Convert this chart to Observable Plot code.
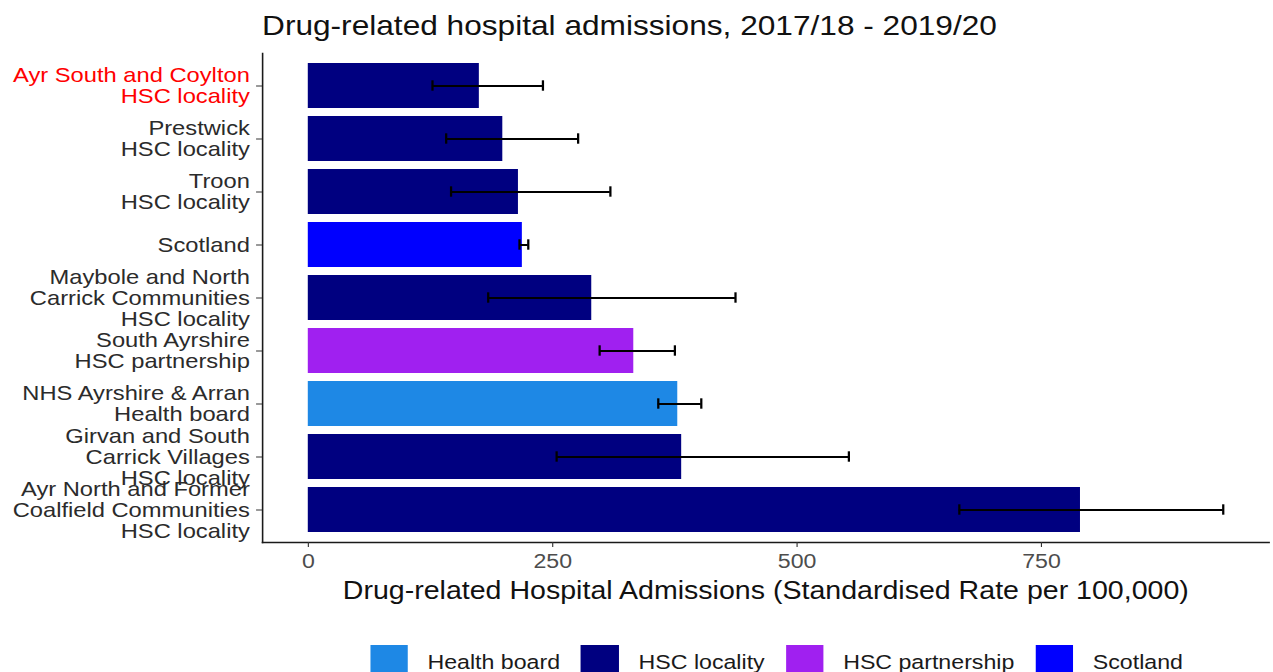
<!DOCTYPE html>
<html>
<head>
<meta charset="utf-8">
<script src="https://cdn.jsdelivr.net/npm/d3@7"></script>
<script src="https://cdn.jsdelivr.net/npm/@observablehq/plot@0.6"></script>
<style>
  html, body { margin: 0; padding: 0; background: #fff; overflow: hidden; }
  #wrap { width: 1127px; height: 672px; overflow: hidden; transform: scaleX(1.1295); transform-origin: 0 0;
          font-family: "Liberation Sans", Arial, Helvetica, sans-serif; background: #fff; }
  #title { box-sizing: border-box; height: 45px; padding-top: 12px; padding-left: 232px; font-size: 28px; line-height: 1; color: #111; white-space: nowrap; }
  #legend { display: flex; align-items: center; height: 34px; margin-top: 10px; padding-left: 327.6px; white-space: nowrap; }
  .sw { width: 33.6px; height: 33.6px; margin-right: 17.3px; flex: none; }
  .lt { font-size: 20.5px; color: #1a1a1a; margin-right: 18.6px; }
  svg { display: block; }
</style>
</head>
<body>
<div id="wrap">
  <div id="title"></div>
  <div id="chart"></div>
  <div id="legend"></div>
</div>
<script>
// ---- data ----
const labels = [
  "Ayr South and Coylton\nHSC locality",
  "Prestwick\nHSC locality",
  "Troon\nHSC locality",
  "Scotland",
  "Maybole and North\nCarrick Communities\nHSC locality",
  "South Ayrshire\nHSC partnership",
  "NHS Ayrshire & Arran\nHealth board",
  "Girvan and South\nCarrick Villages\nHSC locality",
  "Ayr North and Former\nCoalfield Communities\nHSC locality"
];
const types = ["HSC locality", "HSC locality", "HSC locality", "Scotland", "HSC locality",
               "HSC partnership", "Health board", "HSC locality", "HSC locality"];
const rates = [175, 199, 215, 219, 290, 333, 378, 382, 790];
const lower = [127, 141, 146, 216, 184, 298, 358, 254, 666];
const upper = [240, 276, 309, 225, 437, 375, 402, 553, 936];
const typeOrder = ["Health board", "HSC locality", "HSC partnership", "Scotland"];
const typeColors = ["#1E88E5", "#000080", "#A020F0", "#0000FF"];
const xTicks = [0, 250, 500, 750];
const titleText = "Drug-related hospital admissions, 2017/18 - 2019/20";
const xTitle = "Drug-related Hospital Admissions (Standardised Rate per 100,000)";

// ---- build ----
const FONT = '"Liberation Sans", Arial, Helvetica, sans-serif';
const rows = labels.map((name, i) => ({name, type: types[i], rate: rates[i], lo: lower[i], hi: upper[i]}));
const xmax = d3.max(upper);

document.getElementById("title").textContent = titleText;

const capInset = 17.3;
const chart = Plot.plot({
  width: 1127,
  height: 590,
  marginTop: 8,
  marginBottom: 93,
  marginLeft: 232,
  marginRight: 4,
  style: {fontFamily: FONT, fontSize: "20px", background: "white", overflow: "visible"},
  x: {domain: [-0.05 * xmax, 1.05 * xmax]},
  y: {type: "band", domain: labels, paddingInner: 0.16, paddingOuter: 0.185},
  color: {domain: typeOrder, range: typeColors},
  marks: [
    Plot.barX(rows, {y: "name", x: "rate", fill: "type"}),
    Plot.ruleY(rows, {y: "name", x1: "lo", x2: "hi", stroke: "black", strokeWidth: 2}),
    Plot.tickX(rows, {y: "name", x: "lo", insetTop: capInset, insetBottom: capInset, stroke: "black", strokeWidth: 2}),
    Plot.tickX(rows, {y: "name", x: "hi", insetTop: capInset, insetBottom: capInset, stroke: "black", strokeWidth: 2}),
    Plot.frame({anchor: "left", stroke: "#1a1a1a", strokeWidth: 1.4}),
    Plot.frame({anchor: "bottom", stroke: "#1a1a1a", strokeWidth: 1.6}),
    Plot.axisX({ticks: xTicks, tickSize: 5, tickPadding: 6, fontSize: 20.5, fill: "#4d4d4d", stroke: "#333", label: null}),
    Plot.axisY(labels.slice(1), {tickSize: 5.3, tickPadding: 6, fontSize: 21, lineHeight: 1, fill: "#2b2b2b", stroke: "#333", label: null}),
    Plot.axisY(labels.slice(0, 1), {tickSize: 5.3, tickPadding: 6, fontSize: 21, lineHeight: 1, fill: "#ff0000", stroke: "#333", label: null}),
    Plot.text([xTitle], {frameAnchor: "bottom", lineAnchor: "middle", dy: 48, fontSize: 25.3, fill: "#111"})
  ]
});
document.getElementById("chart").appendChild(chart);

// legend
const lg = document.getElementById("legend");
typeOrder.forEach((t, i) => {
  const sw = document.createElement("span");
  sw.className = "sw";
  sw.style.background = typeColors[i];
  const tx = document.createElement("span");
  tx.className = "lt";
  tx.textContent = t;
  lg.appendChild(sw);
  lg.appendChild(tx);
});
</script>
</body>
</html>
